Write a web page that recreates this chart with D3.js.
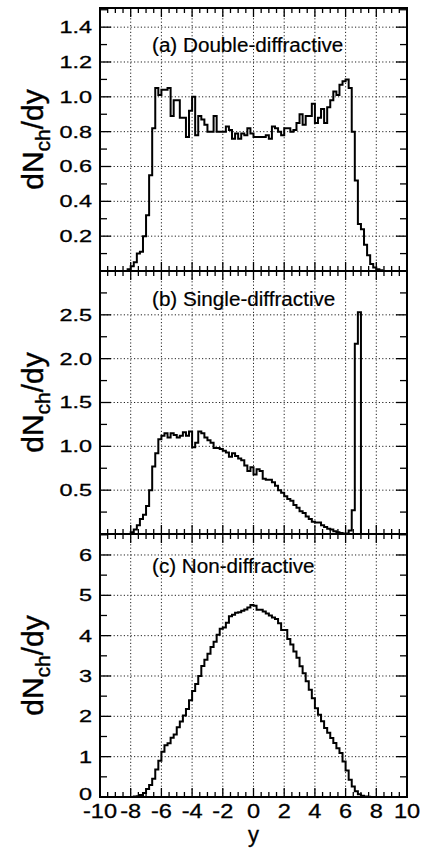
<!DOCTYPE html>
<html>
<head>
<meta charset="utf-8">
<script src="https://cdn.jsdelivr.net/npm/d3@7/dist/d3.min.js"></script>
<style>
  body { margin: 0; background: #fff; }
  svg { display: block; }
</style>
</head>
<body>
<div id="chart"></div>
<script>
// histogram bins: width 0.2, first bin starts at -8.4 (everything outside is 0)
const binStart = -8.4
const binWidth = 0.2

const doubleDiff = [
    0, 0.01, 0.027, 0.05, 0.1, 0.11, 0.2, 0.32, 0.55, 0.82,
    1.05, 1.01, 1.04, 1.04, 1.05, 0.89, 0.98, 0.98, 0.88, 0.88,
    0.77, 0.92, 1.0, 0.78, 0.89, 0.87, 0.84, 0.8, 0.8, 0.89,
    0.8, 0.8, 0.8, 0.83, 0.81, 0.76, 0.79, 0.76, 0.79, 0.78,
    0.82, 0.79, 0.77, 0.77, 0.77, 0.77, 0.78, 0.76, 0.83, 0.82,
    0.8, 0.78, 0.82, 0.82, 0.8, 0.81, 0.85, 0.9, 0.84, 0.89,
    0.89, 0.96, 0.85, 0.88, 0.93, 0.85, 0.94, 0.98, 1.03, 1.01,
    1.07, 1.09, 1.1, 1.05, 0.8, 0.52, 0.27, 0.24, 0.15, 0.09,
    0.04, 0.02, 0.01, 0.005
]

const singleDiff = [
    0, 0, 0.02, 0.05, 0.1, 0.17, 0.22, 0.32, 0.5, 0.77,
    0.92, 1.08, 1.12, 1.15, 1.1, 1.15, 1.13, 1.1, 1.12, 1.16,
    1.12, 1.17, 0.99, 1.04, 1.17, 1.15, 1.1, 1.07, 1.04, 0.98,
    0.98, 0.97, 0.95, 0.93, 0.88, 0.92, 0.89, 0.86, 0.84, 0.78,
    0.72, 0.76, 0.68, 0.74, 0.72, 0.63, 0.62, 0.62, 0.59, 0.55,
    0.5, 0.47, 0.43, 0.4, 0.38, 0.33, 0.3, 0.26, 0.24, 0.2,
    0.17, 0.14, 0.13, 0.13, 0.1, 0.08, 0.06, 0.05, 0.03, 0.02,
    0.01, 0.005, 0.005, 0.04, 0.27, 2.17, 2.53, 0, 0, 0,
    0, 0, 0, 0
]

const nonDiff = [
    0, 0, 0, 0.01, 0.02, 0.05, 0.1, 0.2, 0.3, 0.45,
    0.68, 0.9, 1.12, 1.28, 1.33, 1.47, 1.55, 1.73, 1.87, 2.02,
    2.18, 2.4, 2.63, 2.8, 3.0, 3.25, 3.4, 3.55, 3.72, 3.85,
    4.02, 4.17, 4.2, 4.32, 4.48, 4.52, 4.57, 4.58, 4.62, 4.65,
    4.7, 4.76, 4.74, 4.64, 4.64, 4.6, 4.55, 4.5, 4.45, 4.41,
    4.31, 4.14, 4.14, 3.92, 3.78, 3.61, 3.45, 3.24, 3.07, 2.87,
    2.66, 2.45, 2.2, 2.04, 1.88, 1.71, 1.59, 1.46, 1.34, 1.21,
    1.09, 0.88, 0.66, 0.43, 0.26, 0.14, 0.07, 0.03, 0.015, 0.005,
    0, 0, 0, 0
]

const panelTitles = ["(a) Double-diffractive", "(b) Single-diffractive", "(c) Non-diffractive"]
const yMax = [1.51, 3.0, 6.52]
const yMajorTicks = [
    [0.2, 0.4, 0.6, 0.8, 1.0, 1.2, 1.4],
    [0.5, 1.0, 1.5, 2.0, 2.5],
    [0, 1, 2, 3, 4, 5, 6]
]
const yTickLabels = [
    ["0.2", "0.4", "0.6", "0.8", "1.0", "1.2", "1.4"],
    ["0.5", "1.0", "1.5", "2.0", "2.5"],
    ["0", "1", "2", "3", "4", "5", "6"]
]
const yMinorStep = [0.1, 0.25, 0.5]
const xTicks = [-10, -8, -6, -4, -2, 0, 2, 4, 6, 8, 10]
const xTickLabels = ["-10", "-8", "-6", "-4", "-2", "0", "2", "4", "6", "8", "10"]
const xTitle = "y"

const series = [doubleDiff, singleDiff, nonDiff]

let width = 424,
    height = 851

const left = 100, right = 407
const panelTop = [8, 271, 534]
const panelH = 263
const titleOffset = [44, 35, 39]
const font = "'Liberation Sans', Arial, Helvetica, sans-serif"

let svg = d3.select('#chart')
    .append('svg')
    .attr("width", width)
    .attr("height", height)

let x = d3.scaleLinear().domain([-10, 10]).range([left, right])
let xMinor = d3.range(-10, 10.001, 0.5)

series.forEach((vals, i) => {
    let top = panelTop[i],
        bottom = top + panelH
    let y = d3.scaleLinear().domain([0, yMax[i]]).range([bottom, top])
    let g = svg.append("g")

    // dotted grid
    g.selectAll(".vgrid")
        .data(xTicks.filter(t => t > -10 && t < 10))
        .enter().append("line")
        .attr("x1", d => x(d)).attr("x2", d => x(d))
        .attr("y1", top).attr("y2", bottom)
        .attr("stroke", "#222").attr("stroke-width", 1)
        .attr("stroke-dasharray", "1.2,2.2")

    g.selectAll(".hgrid")
        .data(yMajorTicks[i].filter(t => t > 0))
        .enter().append("line")
        .attr("x1", left).attr("x2", right)
        .attr("y1", d => y(d)).attr("y2", d => y(d))
        .attr("stroke", "#222").attr("stroke-width", 1)
        .attr("stroke-dasharray", "1.2,2.2")

    // histogram as a step line
    let pts = [[-10, 0], [binStart, 0]]
    vals.forEach((v, k) => pts.push([binStart + k * binWidth, v]))
    pts.push([binStart + vals.length * binWidth, 0])
    pts.push([10, 0])

    let line = d3.line()
        .x(d => x(d[0]))
        .y(d => y(d[1]))
        .curve(d3.curveStepAfter)

    g.append("path")
        .datum(pts)
        .attr("d", line)
        .attr("fill", "none")
        .attr("stroke", "#000")
        .attr("stroke-width", 2)
        .attr("stroke-linejoin", "miter")

    // x ticks, top and bottom, pointing in
    xMinor.forEach(t => {
        let major = Math.abs(t / 2 - Math.round(t / 2)) < 1e-6
        let len = major ? 9 : 5
        g.append("line")
            .attr("x1", x(t)).attr("x2", x(t))
            .attr("y1", bottom).attr("y2", bottom - len)
            .attr("stroke", "#000").attr("stroke-width", 1.3)
        g.append("line")
            .attr("x1", x(t)).attr("x2", x(t))
            .attr("y1", top).attr("y2", top + len)
            .attr("stroke", "#000").attr("stroke-width", 1.3)
    })

    // y ticks, left and right
    let yMinor = d3.range(0, yMax[i] + 1e-9, yMinorStep[i])
    yMinor.forEach(t => {
        let major = yMajorTicks[i].some(m => Math.abs(m - t) < 1e-6)
        let len = major ? 11 : 7
        g.append("line")
            .attr("x1", left).attr("x2", left + len)
            .attr("y1", y(t)).attr("y2", y(t))
            .attr("stroke", "#000").attr("stroke-width", 1.3)
        g.append("line")
            .attr("x1", right).attr("x2", right - len)
            .attr("y1", y(t)).attr("y2", y(t))
            .attr("stroke", "#000").attr("stroke-width", 1.3)
    })

    // frame
    g.append("rect")
        .attr("x", left).attr("y", top)
        .attr("width", right - left).attr("height", panelH)
        .attr("fill", "none")
        .attr("stroke", "#000")
        .attr("stroke-width", 2)

    // y tick labels (the bottom "0" sits a bit higher, clear of "-10")
    g.selectAll(".ylab")
        .data(yMajorTicks[i])
        .enter().append("text")
        .attr("transform", d => "translate(92," + (i == 2 && d == 0 ? y(d) - 3 : y(d)) + ") scale(1.42,1)")
        .attr("dy", "0.36em")
        .attr("text-anchor", "end")
        .attr("font-family", font)
        .attr("font-size", 16.5)
        .attr("fill", "#000")
        .attr("stroke", "#000").attr("stroke-width", 0.3)
        .text((d, k) => yTickLabels[i][k])

    // panel title
    g.append("text")
        .attr("transform", "translate(152," + (top + titleOffset[i]) + ") scale(1.06,1)")
        .attr("font-family", font)
        .attr("font-size", 19.5)
        .attr("fill", "#000")
        .attr("stroke", "#000").attr("stroke-width", 0.2)
        .text(panelTitles[i])

    // y title dN_ch/dy
    let yt = g.append("text")
        .attr("transform", "translate(43," + (top + panelH / 2) + ") rotate(-90)")
        .attr("text-anchor", "middle")
        .attr("font-family", font)
        .attr("font-size", 30)
        .attr("fill", "#000")
        .attr("stroke", "#000").attr("stroke-width", 0.4)
    yt.append("tspan").text("dN")
    yt.append("tspan").attr("font-size", 21).attr("dy", 7).text("ch")
    yt.append("tspan").attr("dy", -7).text("/dy")
})

// x tick labels under the bottom panel
let bottomY = panelTop[2] + panelH
svg.selectAll(".xlab")
    .data(xTicks)
    .enter().append("text")
    .attr("transform", d => "translate(" + x(d) + "," + (bottomY + 21) + ") scale(1.15,1)")
    .attr("text-anchor", "middle")
    .attr("font-family", font)
    .attr("font-size", 20.5)
    .attr("fill", "#000")
    .attr("stroke", "#000").attr("stroke-width", 0.3)
    .text((d, k) => xTickLabels[k])

svg.append("text")
    .attr("x", x(0))
    .attr("y", bottomY + 45)
    .attr("text-anchor", "middle")
    .attr("font-family", font)
    .attr("font-size", 22)
    .attr("fill", "#000")
    .attr("stroke", "#000").attr("stroke-width", 0.3)
    .text(xTitle)
</script>
</body>
</html>
